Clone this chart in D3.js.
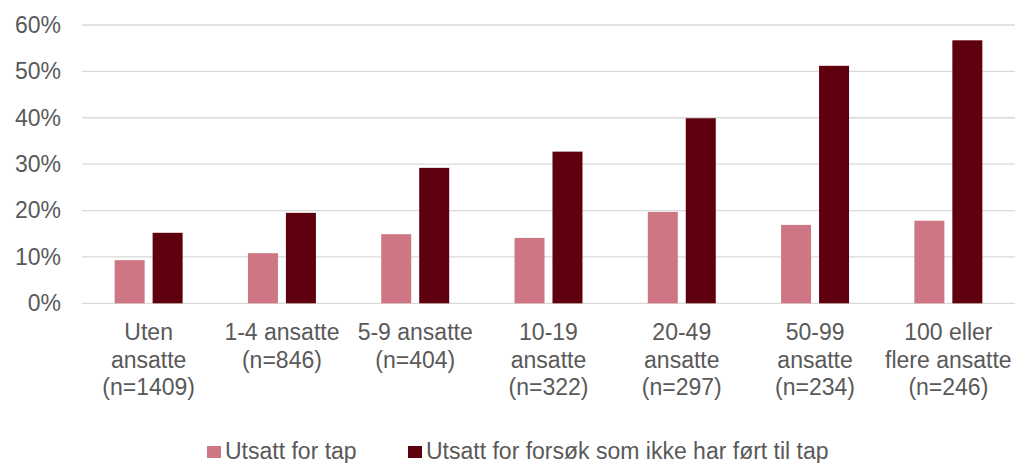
<!DOCTYPE html>
<html>
<head>
<meta charset="utf-8">
<script src="https://cdn.jsdelivr.net/npm/d3@7"></script>
<style>
  body { margin: 0; background: #fff; }
  text { font-family: "Liberation Sans", Arial, sans-serif; fill: #595959; }
</style>
</head>
<body>
<div id="chart"></div>
<script>
// data
const categories = [
    ["Uten", "ansatte", "(n=1409)"],
    ["1-4 ansatte", "(n=846)"],
    ["5-9 ansatte", "(n=404)"],
    ["10-19", "ansatte", "(n=322)"],
    ["20-49", "ansatte", "(n=297)"],
    ["50-99", "ansatte", "(n=234)"],
    ["100 eller", "flere ansatte", "(n=246)"]
];
const seriesNames = ["Utsatt for tap", "Utsatt for forsøk som ikke har ført til tap"];
const tapValues = [9.3, 10.8, 14.9, 14.1, 19.7, 16.9, 17.8];
const forsokValues = [15.2, 19.5, 29.2, 32.7, 39.9, 51.2, 56.7];
const yTicks = [0, 10, 20, 30, 40, 50, 60];
const colors = ["#CF7684", "#5F000F"];

const WIDTH = 1016, HEIGHT = 463;
const margin = {top: 25, right: 1, bottom: 160, left: 82};
const plotW = WIDTH - margin.left - margin.right;
const plotH = 303.3 - margin.top;
const FONT = "23px";

let svg = d3.select("#chart")
    .append("svg")
    .attr("width", WIDTH)
    .attr("height", HEIGHT)
    .append("g")
    .attr("transform", `translate(${margin.left}, ${margin.top})`);

let keys = categories.map((c, i) => "c" + i);

let x = d3.scaleBand()
    .domain(keys)
    .range([0, plotW]);

let xs = d3.scaleBand()
    .domain([0, 1])
    .range([0, x.bandwidth()])
    .paddingInner(0.21)
    .paddingOuter(0.86);

let y = d3.scaleLinear()
    .domain([0, 60])
    .range([plotH, 0]);

// gridlines
svg.append("g")
    .selectAll("line")
    .data(yTicks)
    .enter()
    .append("line")
    .attr("x1", 0)
    .attr("x2", plotW)
    .attr("y1", d => y(d))
    .attr("y2", d => y(d))
    .attr("stroke", "#D9D9D9")
    .attr("stroke-width", 1.3);

// y axis labels
svg.append("g")
    .call(d3.axisLeft(y).tickValues(yTicks).tickFormat(d => d + "%").tickSize(0).tickPadding(21))
    .call(g => g.select(".domain").remove())
    .selectAll("text")
    .style("font-size", FONT)
    .style("font-family", "Liberation Sans, Arial, sans-serif")
    .attr("fill", "#595959");

// bars
let rows = keys.map((k, i) => ({key: k, values: [tapValues[i], forsokValues[i]]}));

let groups = svg.selectAll(".grp")
    .data(rows)
    .enter()
    .append("g")
    .attr("transform", d => `translate(${x(d.key)}, 0)`);

groups.selectAll("rect")
    .data(d => d.values.map((v, j) => ({s: j, v: v})))
    .enter()
    .append("rect")
    .attr("x", d => xs(d.s))
    .attr("y", d => y(d.v))
    .attr("width", xs.bandwidth())
    .attr("height", d => plotH - y(d.v))
    .attr("fill", d => colors[d.s]);

// category labels
let labels = svg.append("g")
    .selectAll("text")
    .data(categories)
    .enter()
    .append("text")
    .attr("text-anchor", "middle")
    .style("font-size", FONT);

labels.selectAll("tspan")
    .data((d, i) => d.map(t => ({t: t, cx: x(keys[i]) + x.bandwidth() / 2})))
    .enter()
    .append("tspan")
    .attr("x", d => d.cx)
    .attr("y", (d, j) => 340 - margin.top + j * 27.7)
    .text(d => d.t);

// legend
let legendX = [207, 408];
let legend = d3.select("svg").append("g");
seriesNames.forEach(function(name, i) {
    legend.append("rect")
        .attr("x", legendX[i])
        .attr("y", 446)
        .attr("width", 14)
        .attr("height", 12)
        .attr("fill", colors[i]);
    legend.append("text")
        .attr("x", legendX[i] + 18)
        .attr("y", 459)
        .style("font-size", FONT)
        .text(name);
});
</script>
</body>
</html>
